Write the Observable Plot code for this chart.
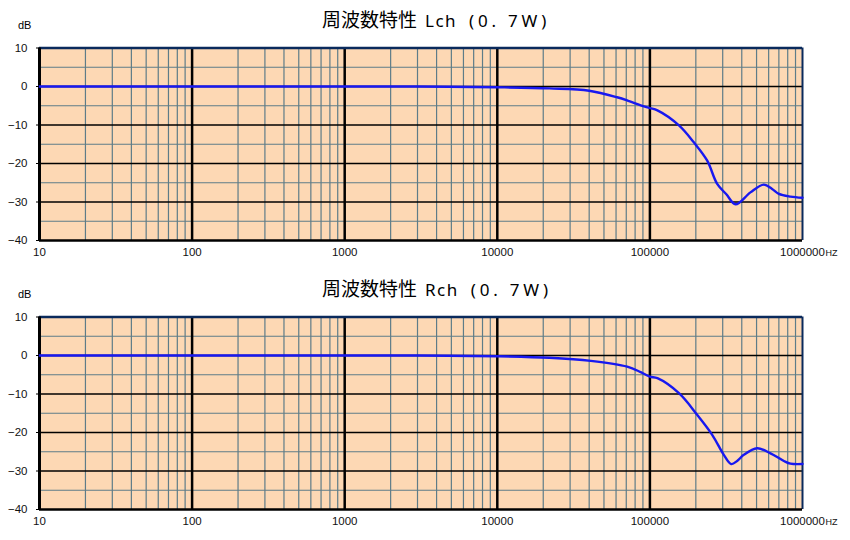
<!DOCTYPE html>
<html>
<head>
<meta charset="utf-8">
<script src="https://cdn.jsdelivr.net/npm/d3@7"></script>
<script src="https://cdn.jsdelivr.net/npm/@observablehq/plot@0.6"></script>
<style>
  html, body { margin: 0; padding: 0; background: #fff; }
  body { width: 850px; height: 540px; position: relative; overflow: hidden; }
  .panel { position: absolute; left: 0; width: 850px; height: 268px; }
  .title { position: absolute; left: 322px; top: 8px; white-space: pre; color: #000; line-height: 22px; }
  .title .k { font-family: "Noto Sans CJK JP", sans-serif; font-size: 19px; }
  .title .a { font-family: "Noto Sans", "DejaVu Sans", sans-serif; font-size: 17px; letter-spacing: 1.5px; margin-left: 8px; }
  .title .b { font-family: "Noto Sans", "DejaVu Sans", sans-serif; font-size: 17px; letter-spacing: 3.8px; margin-left: 12px; }
  .unit { position: absolute; left: 18px; top: 19px; font-family: "Liberation Sans", Arial, sans-serif; font-size: 11px; color: #000; }
  svg { position: absolute; left: 0; top: 0; }
</style>
</head>
<body>
<script>
// ---- data ----
const titleMain = "周波数特性";
const channels = ["Lch", "Rch"];
const power = "(0. 7W)";
const freqL = [10, 100, 1000, 3000, 10000, 22000, 40000, 61000, 73000, 87000, 100000, 112000, 155000, 194000, 237000, 276000, 317000, 364000, 456000, 557000, 632000, 700000, 834000, 1000000];
const dbL   = [0, 0, 0, 0, -0.2, -0.5, -1.1, -2.8, -3.8, -4.9, -5.6, -6.2, -10.1, -14.5, -19.2, -25.3, -28.0, -30.6, -27.5, -25.5, -26.6, -27.9, -28.6, -28.9];
const freqR = [10, 100, 1000, 3000, 10000, 22000, 41000, 71000, 87000, 100000, 112000, 155000, 204000, 256000, 305000, 341000, 373000, 412000, 505000, 617000, 755000, 834000, 1000000];
const dbR   = [0, 0, 0, 0, -0.2, -0.6, -1.4, -2.9, -4.3, -5.5, -5.9, -9.8, -15.4, -20.6, -25.8, -28.2, -27.4, -25.8, -24.1, -25.4, -27.4, -28.1, -28.2];
const decades = [10, 100, 1000, 10000, 100000, 1000000];
const decadeLabels = ["10", "100", "1000", "10000", "100000", "1000000"];
const minorMult = [2, 3, 4, 5, 6, 7, 8, 9];
const yTicks = [10, 0, -10, -20, -30, -40];
const yMajorGrid = [0, -10, -20, -30];
const yMinorGrid = [5, -5, -15, -25, -35];
const unitX = "HZ";
const unitY = "dB";

const minorX = decades.slice(0, -1).flatMap(d => minorMult.map(m => d * m));
const innerDecades = decades.slice(1, -1);
const xLabelRows = decades.map((d, i) => ({f: d, label: decadeLabels[i]}));

function panel(freq, db, channel, top) {
  const data = freq.map((f, i) => ({f, db: db[i]}));
  const div = document.createElement("div");
  div.className = "panel";
  div.style.top = top + "px";
  const plot = Plot.plot({
    width: 850,
    height: 268,
    marginTop: 47.5,
    marginBottom: 28,
    marginLeft: 39,
    marginRight: 48,
    style: {background: "transparent", fontFamily: "Liberation Sans, Arial, sans-serif", fontSize: "11px", color: "#111"},
    x: {type: "log", domain: [10, 1000000], axis: null},
    y: {domain: [-40, 10]},
    marks: [
      Plot.frame({fill: "#FDD8B4", stroke: null}),
      Plot.ruleX(minorX, {stroke: "#5E7C88", strokeWidth: 1.2}),
      Plot.ruleY(yMinorGrid, {stroke: "#5E7C88", strokeWidth: 1.2}),
      Plot.ruleY(yMajorGrid, {stroke: "#000", strokeWidth: 1.5}),
      Plot.ruleX(innerDecades, {stroke: "#000", strokeWidth: 2.5}),
      Plot.ruleY([10], {stroke: "#0A2A5C", strokeWidth: 2.5}),
      Plot.ruleX([1000000], {stroke: "#0A2A5C", strokeWidth: 2}),
      Plot.ruleX([10], {stroke: "#000", strokeWidth: 3}),
      Plot.ruleY([-40], {stroke: "#000", strokeWidth: 2.5}),
      Plot.line(data, {x: "f", y: "db", stroke: "#1818F0", strokeWidth: 2.4, curve: "catmull-rom"}),
      Plot.text(xLabelRows, {x: "f", text: "label", frameAnchor: "bottom", dy: 12, lineAnchor: "middle", fontSize: 11.5, fill: "#111"}),
      Plot.axisY(yTicks, {tickSize: 3, tickPadding: 9, label: null, fontSize: 11.5, stroke: "#000"}),
      Plot.text([unitX], {frameAnchor: "bottom-right", dx: 23, dy: 13, lineAnchor: "middle", fontSize: 9, textAnchor: "start", fill: "#111"})
    ]
  });
  div.appendChild(plot);
  const t = document.createElement("div");
  t.className = "title";
  const k = document.createElement("span"); k.className = "k"; k.textContent = titleMain;
  const a = document.createElement("span"); a.className = "a"; a.textContent = channel;
  const b = document.createElement("span"); b.className = "b"; b.textContent = power;
  t.append(k, a, b);
  div.appendChild(t);
  const u = document.createElement("div");
  u.className = "unit";
  u.textContent = unitY;
  div.appendChild(u);
  document.body.appendChild(div);
}

panel(freqL, dbL, channels[0], 0);
panel(freqR, dbR, channels[1], 269);
</script>
</body>
</html>
